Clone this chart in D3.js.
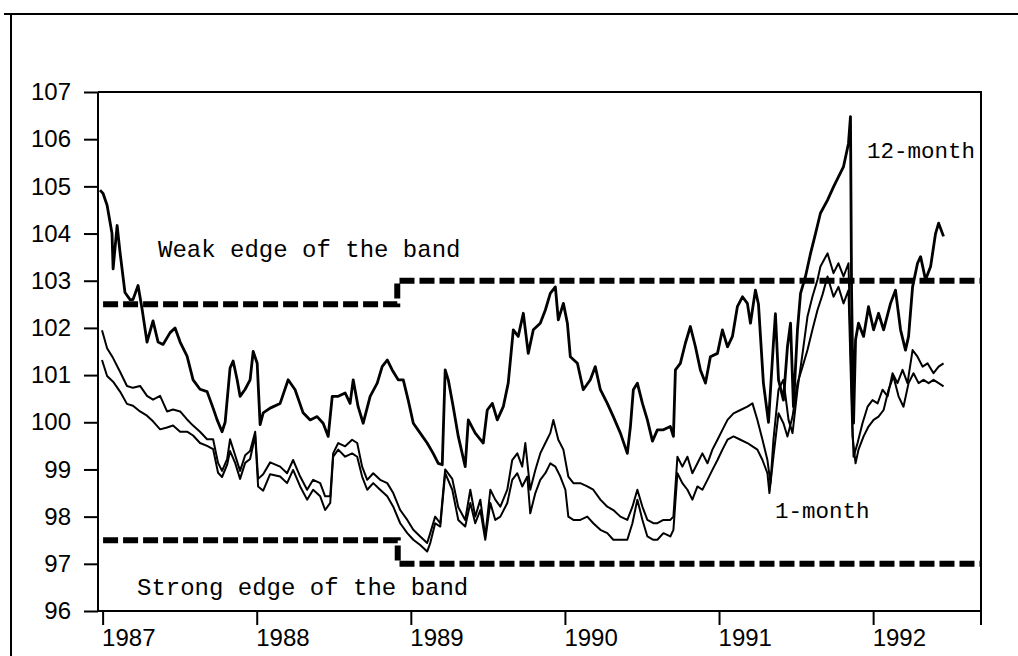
<!DOCTYPE html>
<html lang="en">
  <head>
    <meta charset="utf-8">
    <title>exchange rate band</title>
    <style>
      body { margin: 0; background: #fff; }
      svg { display: block; }
      .tick text { font-family: "Liberation Sans", Arial, sans-serif; font-size: 24px; fill: #000; }
      .tick line { stroke: #000; stroke-width: 2; }
      .note { font-family: "Liberation Mono", "Courier New", monospace; fill: #000; }
    </style>
  </head>
  <body>

<script src="https://cdn.jsdelivr.net/npm/d3@7"></script>

<script>

// series: [decimal year, index]
var m12 = [[1986.983,104.92],[1987.003,104.85],[1987.029,104.6],[1987.061,104.0],[1987.068,103.25],[1987.094,104.17],[1987.113,103.6],[1987.145,102.75],[1987.178,102.6],[1987.197,102.6],[1987.230,102.9],[1987.256,102.4],[1987.288,101.7],[1987.327,102.15],[1987.360,101.7],[1987.392,101.65],[1987.438,101.9],[1987.470,102.0],[1987.503,101.7],[1987.548,101.4],[1987.587,100.9],[1987.632,100.7],[1987.678,100.65],[1987.717,100.3],[1987.743,100.05],[1987.775,99.8],[1987.795,100.0],[1987.827,101.15],[1987.847,101.3],[1987.873,100.9],[1987.892,100.55],[1987.925,100.7],[1987.957,100.9],[1987.977,101.5],[1988.003,101.25],[1988.022,99.95],[1988.042,100.2],[1988.087,100.3],[1988.152,100.4],[1988.204,100.9],[1988.249,100.69],[1988.301,100.2],[1988.347,100.05],[1988.392,100.12],[1988.431,99.98],[1988.464,99.7],[1988.490,100.55],[1988.529,100.55],[1988.574,100.62],[1988.606,100.4],[1988.626,100.9],[1988.658,100.33],[1988.691,99.98],[1988.736,100.55],[1988.782,100.83],[1988.814,101.18],[1988.847,101.32],[1988.879,101.11],[1988.918,100.9],[1988.951,100.9],[1988.983,100.47],[1989.016,99.98],[1989.061,99.77],[1989.106,99.56],[1989.145,99.34],[1989.178,99.13],[1989.204,99.1],[1989.223,101.11],[1989.243,100.9],[1989.275,100.33],[1989.308,99.7],[1989.353,99.06],[1989.373,100.05],[1989.418,99.77],[1989.470,99.56],[1989.496,100.26],[1989.529,100.4],[1989.561,100.05],[1989.600,100.33],[1989.632,100.83],[1989.665,101.96],[1989.697,101.82],[1989.730,102.31],[1989.762,101.46],[1989.795,101.96],[1989.840,102.1],[1989.873,102.38],[1989.905,102.73],[1989.938,102.87],[1989.957,102.17],[1989.990,102.52],[1990.016,102.1],[1990.035,101.39],[1990.081,101.25],[1990.119,100.69],[1990.165,100.9],[1990.197,101.18],[1990.230,100.69],[1990.275,100.4],[1990.314,100.12],[1990.360,99.77],[1990.405,99.34],[1990.425,99.91],[1990.444,100.69],[1990.470,100.83],[1990.503,100.4],[1990.535,100.05],[1990.568,99.6],[1990.600,99.84],[1990.639,99.84],[1990.684,99.91],[1990.704,99.7],[1990.717,101.11],[1990.749,101.25],[1990.782,101.68],[1990.814,102.03],[1990.847,101.6],[1990.879,101.11],[1990.912,100.83],[1990.944,101.39],[1990.990,101.46],[1991.022,101.96],[1991.055,101.6],[1991.087,101.82],[1991.119,102.45],[1991.152,102.66],[1991.184,102.52],[1991.204,102.1],[1991.236,102.8],[1991.256,102.5],[1991.288,100.83],[1991.321,100.0],[1991.353,101.68],[1991.366,102.3],[1991.386,100.9],[1991.418,100.47],[1991.444,101.6],[1991.464,102.1],[1991.483,100.33],[1991.509,101.96],[1991.529,102.73],[1991.561,103.09],[1991.594,103.58],[1991.626,104.0],[1991.658,104.43],[1991.704,104.71],[1991.743,104.99],[1991.775,105.2],[1991.808,105.42],[1991.840,105.91],[1991.853,106.48],[1991.860,102.8],[1991.873,99.98],[1991.886,101.75],[1991.905,102.1],[1991.938,101.82],[1991.970,102.45],[1992.003,101.96],[1992.035,102.31],[1992.068,101.96],[1992.113,102.52],[1992.145,102.8],[1992.178,101.96],[1992.210,101.53],[1992.230,101.82],[1992.256,102.87],[1992.288,103.37],[1992.308,103.51],[1992.340,103.02],[1992.373,103.3],[1992.405,104.0],[1992.425,104.22],[1992.457,103.94]];

var mMid = [[1986.996,101.95],[1987.029,101.57],[1987.068,101.36],[1987.113,101.07],[1987.158,100.77],[1987.197,100.73],[1987.243,100.77],[1987.288,100.56],[1987.327,100.48],[1987.373,100.56],[1987.418,100.23],[1987.457,100.27],[1987.503,100.23],[1987.548,100.06],[1987.587,99.93],[1987.632,99.8],[1987.678,99.64],[1987.717,99.64],[1987.749,99.14],[1987.775,98.97],[1987.808,99.22],[1987.827,99.64],[1987.860,99.3],[1987.892,98.97],[1987.925,99.3],[1987.957,99.39],[1987.990,99.8],[1988.009,98.8],[1988.042,98.9],[1988.087,99.15],[1988.152,99.06],[1988.197,98.92],[1988.236,99.2],[1988.282,98.85],[1988.327,98.57],[1988.366,98.78],[1988.412,98.71],[1988.444,98.43],[1988.477,98.43],[1988.496,99.34],[1988.529,99.56],[1988.574,99.49],[1988.619,99.63],[1988.652,99.56],[1988.684,99.06],[1988.717,98.78],[1988.756,98.92],[1988.801,98.78],[1988.847,98.71],[1988.886,98.5],[1988.931,98.14],[1988.977,97.93],[1989.016,97.72],[1989.061,97.58],[1989.106,97.44],[1989.126,97.65],[1989.158,98.0],[1989.191,97.86],[1989.223,99.0],[1989.269,98.8],[1989.308,98.2],[1989.353,97.93],[1989.386,98.57],[1989.418,98.0],[1989.451,98.36],[1989.483,97.58],[1989.516,98.57],[1989.548,98.36],[1989.581,98.21],[1989.626,98.57],[1989.658,99.2],[1989.691,99.34],[1989.723,99.06],[1989.743,99.56],[1989.775,98.57],[1989.808,98.99],[1989.840,99.34],[1989.873,99.56],[1989.905,99.77],[1989.925,100.05],[1989.957,99.63],[1989.990,99.42],[1990.022,98.85],[1990.055,98.71],[1990.100,98.71],[1990.145,98.64],[1990.184,98.57],[1990.230,98.36],[1990.275,98.21],[1990.314,98.14],[1990.360,98.0],[1990.405,97.93],[1990.438,98.21],[1990.470,98.57],[1990.503,98.21],[1990.535,97.93],[1990.574,97.86],[1990.600,97.86],[1990.639,97.93],[1990.684,97.93],[1990.704,98.0],[1990.730,99.27],[1990.762,99.06],[1990.795,99.27],[1990.827,98.92],[1990.860,99.13],[1990.892,99.34],[1990.925,99.13],[1990.957,99.42],[1990.990,99.63],[1991.022,99.84],[1991.055,100.05],[1991.094,100.19],[1991.139,100.26],[1991.184,100.33],[1991.217,100.4],[1991.249,100.05],[1991.282,99.63],[1991.314,99.2],[1991.334,98.71],[1991.353,99.63],[1991.386,100.69],[1991.418,100.9],[1991.451,100.05],[1991.477,99.77],[1991.509,100.69],[1991.542,101.46],[1991.574,102.24],[1991.606,102.66],[1991.639,103.02],[1991.658,103.3],[1991.704,103.58],[1991.743,103.16],[1991.775,103.37],[1991.808,103.09],[1991.840,103.37],[1991.866,99.98],[1991.873,99.27],[1991.899,99.56],[1991.931,99.98],[1991.964,100.33],[1991.996,100.47],[1992.029,100.4],[1992.061,100.69],[1992.094,100.55],[1992.126,101.04],[1992.158,100.83],[1992.191,101.11],[1992.223,100.83],[1992.256,101.53],[1992.288,101.39],[1992.321,101.18],[1992.353,101.25],[1992.392,101.04],[1992.425,101.18],[1992.457,101.25]];

var m1 = [[1986.996,101.32],[1987.029,100.98],[1987.068,100.86],[1987.113,100.65],[1987.158,100.39],[1987.197,100.35],[1987.243,100.23],[1987.288,100.14],[1987.327,100.02],[1987.373,99.85],[1987.418,99.89],[1987.457,99.93],[1987.503,99.8],[1987.548,99.8],[1987.587,99.72],[1987.632,99.56],[1987.678,99.5],[1987.717,99.43],[1987.749,98.93],[1987.775,98.84],[1987.808,99.1],[1987.827,99.39],[1987.860,99.14],[1987.892,98.8],[1987.925,99.14],[1987.957,99.22],[1987.990,99.72],[1988.009,98.64],[1988.042,98.55],[1988.087,98.9],[1988.152,98.85],[1988.197,98.71],[1988.236,98.99],[1988.282,98.64],[1988.327,98.36],[1988.366,98.57],[1988.412,98.43],[1988.444,98.14],[1988.477,98.29],[1988.496,99.27],[1988.529,99.42],[1988.574,99.27],[1988.619,99.34],[1988.652,99.27],[1988.684,98.85],[1988.717,98.57],[1988.756,98.71],[1988.801,98.57],[1988.847,98.43],[1988.886,98.21],[1988.931,97.86],[1988.977,97.65],[1989.016,97.51],[1989.061,97.4],[1989.106,97.26],[1989.126,97.44],[1989.158,97.86],[1989.191,97.79],[1989.223,98.92],[1989.269,98.57],[1989.308,97.93],[1989.353,97.79],[1989.386,98.29],[1989.418,97.86],[1989.451,98.14],[1989.483,97.51],[1989.516,98.29],[1989.548,97.93],[1989.581,98.0],[1989.626,98.29],[1989.658,98.78],[1989.691,98.92],[1989.723,98.64],[1989.756,98.85],[1989.775,98.07],[1989.808,98.5],[1989.840,98.78],[1989.873,98.92],[1989.905,99.13],[1989.938,99.06],[1989.970,98.85],[1990.003,98.57],[1990.022,98.0],[1990.055,97.93],[1990.100,97.93],[1990.145,98.0],[1990.184,97.86],[1990.230,97.72],[1990.275,97.65],[1990.314,97.51],[1990.360,97.51],[1990.405,97.51],[1990.438,97.86],[1990.470,98.36],[1990.503,97.93],[1990.535,97.58],[1990.574,97.51],[1990.600,97.51],[1990.639,97.65],[1990.684,97.58],[1990.704,97.72],[1990.730,98.92],[1990.762,98.71],[1990.795,98.57],[1990.827,98.36],[1990.860,98.64],[1990.892,98.57],[1990.925,98.78],[1990.957,98.99],[1990.990,99.2],[1991.022,99.42],[1991.055,99.63],[1991.094,99.7],[1991.139,99.63],[1991.184,99.56],[1991.217,99.49],[1991.249,99.42],[1991.282,99.2],[1991.314,98.92],[1991.327,98.5],[1991.353,99.27],[1991.386,100.19],[1991.418,99.98],[1991.444,99.7],[1991.477,100.12],[1991.509,100.83],[1991.542,101.18],[1991.574,101.53],[1991.606,101.96],[1991.639,102.38],[1991.671,102.7],[1991.704,103.09],[1991.743,102.66],[1991.775,102.87],[1991.808,102.52],[1991.840,102.8],[1991.866,99.7],[1991.886,99.13],[1991.905,99.42],[1991.938,99.7],[1991.970,99.91],[1992.003,100.05],[1992.035,100.12],[1992.068,100.26],[1992.100,100.69],[1992.132,100.97],[1992.165,100.55],[1992.197,100.33],[1992.230,100.83],[1992.262,101.04],[1992.295,100.83],[1992.327,100.9],[1992.360,100.83],[1992.392,100.9],[1992.425,100.83],[1992.457,100.76]];

// band edges
var weakEdge = [[1987.003,102.5],[1988.912,102.5],[1988.912,103.0],[1992.70,103.0]];
var strongEdge = [[1987.003,97.5],[1988.915,97.5],[1988.915,97.0],[1992.70,97.0]];

var yTicks = [96, 97, 98, 99, 100, 101, 102, 103, 104, 105, 106, 107];
var xTicks = [1987, 1988, 1989, 1990, 1991, 1992];

var svg = d3.select("body").append("svg")
            .attr("width", 1018)
            .attr("height", 656);

var plotLeft = 98, plotRight = 981, plotTop = 92, plotBottom = 611;

var x = d3.scaleLinear().domain([1986.97, 1992.70]).range([plotLeft, plotRight]);
var y = d3.scaleLinear().domain([96, 107]).range([plotBottom, plotTop]);

//outer frame
svg.append("path")
   .attr("d", "M4,14 H1018 M11,14 V656")
   .attr("fill", "none")
   .attr("stroke", "#000")
   .attr("stroke-width", 2);

//axes
var yAxis = svg.append("g")
               .attr("transform", "translate(" + plotLeft + ",0)")
               .call(d3.axisLeft(y).tickValues(yTicks).tickSize(14).tickPadding(13).tickFormat(d3.format("d")));
yAxis.select(".domain").remove();

var xAxis = svg.append("g")
               .attr("transform", "translate(0," + plotBottom + ")")
               .call(d3.axisBottom(x).tickValues(xTicks).tickSize(14).tickFormat(d3.format("d")));
xAxis.select(".domain").remove();
xAxis.selectAll("text")
     .attr("text-anchor", "start")
     .attr("x", -1)
     .attr("y", 35)
     .attr("dy", null);

//plot frame
svg.append("path")
   .attr("d", "M" + plotLeft + "," + plotTop + " H" + plotRight + " V" + (plotBottom + 14) +
              " M" + plotRight + "," + plotBottom + " H" + plotLeft + " V" + plotTop)
   .attr("fill", "none")
   .attr("stroke", "#000")
   .attr("stroke-width", 2);

var line = d3.line()
             .x(function(d) { return x(d[0]); })
             .y(function(d) { return y(d[1]); });

//band
[weakEdge, strongEdge].forEach(function(b) {
  svg.append("path")
     .attr("d", line(b))
     .attr("fill", "none")
     .attr("stroke", "#000")
     .attr("stroke-width", 6)
     .attr("stroke-dasharray", "15,5");
});

//rates
svg.append("path").attr("d", line(m1)).attr("fill", "none").attr("stroke", "#000").attr("stroke-width", 2).attr("stroke-linejoin", "round");
svg.append("path").attr("d", line(mMid)).attr("fill", "none").attr("stroke", "#000").attr("stroke-width", 2).attr("stroke-linejoin", "round");
svg.append("path").attr("d", line(m12)).attr("fill", "none").attr("stroke", "#000").attr("stroke-width", 2.8).attr("stroke-linejoin", "round");

//notes
svg.append("text").attr("class", "note").attr("x", 158).attr("y", 257).style("font-size", "24px").text("Weak edge of the band");
svg.append("text").attr("class", "note").attr("x", 137).attr("y", 595).style("font-size", "24px").text("Strong edge of the band");
svg.append("text").attr("class", "note").attr("x", 867).attr("y", 158).style("font-size", "22.5px").text("12-month");
svg.append("text").attr("class", "note").attr("x", 775).attr("y", 518).style("font-size", "22.5px").text("1-month");

</script>

  </body>
</html>
